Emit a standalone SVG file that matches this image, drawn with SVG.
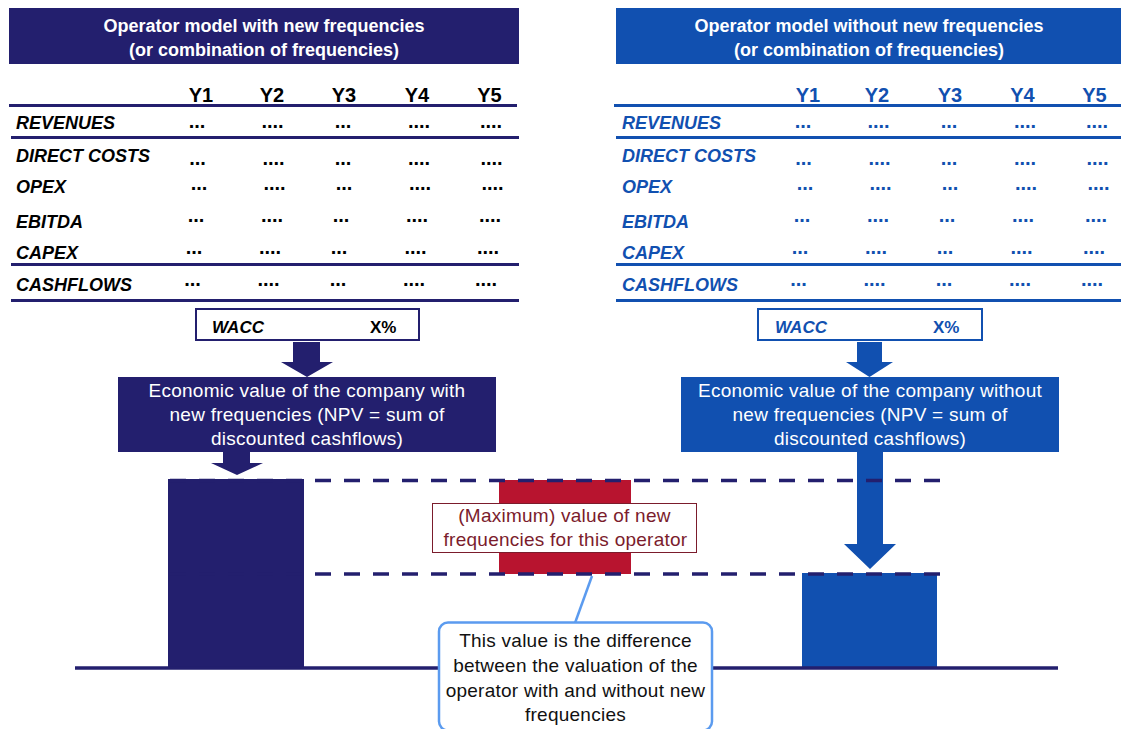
<svg xmlns="http://www.w3.org/2000/svg" width="1121" height="729" viewBox="0 0 1121 729">
<style>
.hdr{font-family:"Liberation Sans",Arial,sans-serif;font-size:18px;font-weight:bold;fill:#fff;text-anchor:middle}
.yl{font-family:"Liberation Sans",Arial,sans-serif;font-size:20px;font-weight:bold;text-anchor:middle}
.rl{font-family:"Liberation Sans",Arial,sans-serif;font-size:18px;font-weight:bold;font-style:italic}
.dt{font-family:"Liberation Sans",Arial,sans-serif;font-size:20px;font-weight:bold;text-anchor:middle}
.wc{font-family:"Liberation Sans",Arial,sans-serif;font-size:17px;font-weight:bold;font-style:italic}
.wp{font-family:"Liberation Sans",Arial,sans-serif;font-size:17px;font-weight:bold}
.body{font-family:"Liberation Sans",Arial,sans-serif;font-size:19px;letter-spacing:0.25px;text-anchor:middle}
.L{fill:#000}
.R{fill:#1150b0}
.ln{stroke-width:3;fill:none}
.lnL{stroke:#231f6e}
.lnR{stroke:#1150b0}
</style>

<!-- Left header -->
<g id="header-left">
<rect x="9" y="8" width="510" height="56" fill="#231f6e"/>
<text class="hdr" x="264" y="32">Operator model with new frequencies</text>
<text class="hdr" x="264" y="56">(or combination of frequencies)</text>
</g>

<!-- Right header -->
<g id="header-right">
<rect x="616" y="8" width="505" height="56" fill="#1150b0"/>
<text class="hdr" x="869" y="32">Operator model without new frequencies</text>
<text class="hdr" x="869" y="56">(or combination of frequencies)</text>
</g>

<!-- Left table -->
<g id="table-left">
<text class="yl L" x="201" y="102">Y1</text>
<text class="yl L" x="272" y="102">Y2</text>
<text class="yl L" x="344" y="102">Y3</text>
<text class="yl L" x="417" y="102">Y4</text>
<text class="yl L" x="489.5" y="102">Y5</text>
<line class="ln lnL" x1="9" y1="105.5" x2="517" y2="105.5"/>
<line class="ln lnL" x1="11" y1="137.5" x2="519" y2="137.5"/>
<line class="ln lnL" x1="11" y1="264.5" x2="519" y2="264.5"/>
<line class="ln lnL" x1="11" y1="300.5" x2="519" y2="300.5"/>
<text class="rl L" x="16" y="129">REVENUES</text>
<text class="rl L" x="16" y="162">DIRECT COSTS</text>
<text class="rl L" x="16" y="193">OPEX</text>
<text class="rl L" x="16" y="228">EBITDA</text>
<text class="rl L" x="16" y="259">CAPEX</text>
<text class="rl L" x="16" y="291">CASHFLOWS</text>
<g class="L">
<text class="dt" x="197" y="128">...</text><text class="dt" x="272.5" y="128">....</text><text class="dt" x="343" y="128">...</text><text class="dt" x="419" y="128">....</text><text class="dt" x="491" y="128">....</text>
<text class="dt" x="197.5" y="165">...</text><text class="dt" x="273.5" y="165">....</text><text class="dt" x="343" y="165">...</text><text class="dt" x="419" y="165">....</text><text class="dt" x="491.5" y="165">....</text>
<text class="dt" x="199" y="190">...</text><text class="dt" x="274.5" y="190">....</text><text class="dt" x="344" y="190">...</text><text class="dt" x="420" y="190">....</text><text class="dt" x="492.5" y="190">....</text>
<text class="dt" x="196" y="222">...</text><text class="dt" x="272" y="222">....</text><text class="dt" x="341" y="222">...</text><text class="dt" x="417" y="222">....</text><text class="dt" x="490" y="222">....</text>
<text class="dt" x="194" y="254">...</text><text class="dt" x="270" y="254">....</text><text class="dt" x="339" y="254">...</text><text class="dt" x="415.5" y="254">....</text><text class="dt" x="488" y="254">....</text>
<text class="dt" x="192.5" y="286">...</text><text class="dt" x="268.5" y="286">....</text><text class="dt" x="338" y="286">...</text><text class="dt" x="414" y="286">....</text><text class="dt" x="486" y="286">....</text>
</g>
</g>

<!-- Right table -->
<g id="table-right">
<text class="yl R" x="808" y="102">Y1</text>
<text class="yl R" x="877" y="102">Y2</text>
<text class="yl R" x="950" y="102">Y3</text>
<text class="yl R" x="1022.5" y="102">Y4</text>
<text class="yl R" x="1094.5" y="102">Y5</text>
<line class="ln lnR" x1="614" y1="105.5" x2="1121" y2="105.5"/>
<line class="ln lnR" x1="616" y1="137.5" x2="1121" y2="137.5"/>
<line class="ln lnR" x1="616" y1="264.5" x2="1121" y2="264.5"/>
<line class="ln lnR" x1="616" y1="300.5" x2="1121" y2="300.5"/>
<text class="rl R" x="622" y="129">REVENUES</text>
<text class="rl R" x="622" y="162">DIRECT COSTS</text>
<text class="rl R" x="622" y="193">OPEX</text>
<text class="rl R" x="622" y="228">EBITDA</text>
<text class="rl R" x="622" y="259">CAPEX</text>
<text class="rl R" x="622" y="291">CASHFLOWS</text>
<g class="R">
<text class="dt" x="803" y="128">...</text><text class="dt" x="878.5" y="128">....</text><text class="dt" x="949" y="128">...</text><text class="dt" x="1025" y="128">....</text><text class="dt" x="1097" y="128">....</text>
<text class="dt" x="803.5" y="165">...</text><text class="dt" x="879.5" y="165">....</text><text class="dt" x="949" y="165">...</text><text class="dt" x="1025" y="165">....</text><text class="dt" x="1097.5" y="165">....</text>
<text class="dt" x="805" y="190">...</text><text class="dt" x="880.5" y="190">....</text><text class="dt" x="950" y="190">...</text><text class="dt" x="1026" y="190">....</text><text class="dt" x="1098.5" y="190">....</text>
<text class="dt" x="802" y="222">...</text><text class="dt" x="878" y="222">....</text><text class="dt" x="947" y="222">...</text><text class="dt" x="1023" y="222">....</text><text class="dt" x="1096" y="222">....</text>
<text class="dt" x="800" y="254">...</text><text class="dt" x="876" y="254">....</text><text class="dt" x="945" y="254">...</text><text class="dt" x="1021.5" y="254">....</text><text class="dt" x="1094" y="254">....</text>
<text class="dt" x="798.5" y="286">...</text><text class="dt" x="874.5" y="286">....</text><text class="dt" x="944" y="286">...</text><text class="dt" x="1020" y="286">....</text><text class="dt" x="1092" y="286">....</text>
</g>
</g>

<!-- WACC boxes -->
<g id="wacc-left">
<rect x="196" y="309" width="223" height="31" fill="#fff" stroke="#231f6e" stroke-width="2"/>
<text class="wc L" x="212" y="333">WACC</text>
<text class="wp L" x="370" y="333">X%</text>
</g>
<g id="wacc-right">
<rect x="758" y="309" width="224" height="31" fill="#fff" stroke="#1150b0" stroke-width="2"/>
<text class="wc R" x="775" y="333">WACC</text>
<text class="wp R" x="933" y="333">X%</text>
</g>

<!-- Economic value boxes -->
<g id="econ-left">
<rect x="118" y="377" width="378" height="75" fill="#231f6e"/>
<text class="body" fill="#fff" x="307" y="397">Economic value of the company with</text>
<text class="body" fill="#fff" x="307" y="421">new frequencies (NPV = sum of</text>
<text class="body" fill="#fff" x="307" y="445">discounted cashflows)</text>
</g>
<g id="econ-right">
<rect x="681" y="377" width="378" height="75" fill="#1150b0"/>
<text class="body" fill="#fff" x="870" y="397">Economic value of the company without</text>
<text class="body" fill="#fff" x="870" y="421">new frequencies (NPV = sum of</text>
<text class="body" fill="#fff" x="870" y="445">discounted cashflows)</text>
</g>

<!-- Bars -->
<g id="bar-left"><rect x="168" y="479" width="136" height="189" fill="#231f6e"/></g>
<g id="bar-value"><rect x="499" y="480" width="132" height="94" fill="#b8142f"/></g>
<g id="bar-right"><rect x="802" y="573" width="135" height="95" fill="#1150b0"/></g>

<!-- Connectors -->
<g id="connectors">
<polygon points="293,342 320,342 320,362 333,362 307,377 281,362 293,362" fill="#231f6e"/>
<polygon points="223,452 250,452 250,463 263,463 237,475 211,463 223,463" fill="#231f6e"/>
<polygon points="857,342 882,342 882,362 893,362 869.5,377 846,362 857,362" fill="#1150b0"/>
<polygon points="857,452 883,452 883,544 896,544 870,569 844,544 857,544" fill="#1150b0"/>
<line x1="170" y1="480.5" x2="940" y2="480.5" stroke="#231f6e" stroke-width="3.5" stroke-dasharray="16 13"/>
<line x1="170" y1="574" x2="940" y2="574" stroke="#231f6e" stroke-width="3.5" stroke-dasharray="16 13"/>
<line x1="75" y1="668" x2="1058" y2="668" stroke="#231f6e" stroke-width="3.5"/>
<line x1="592" y1="576" x2="575" y2="623" stroke="#5b9bef" stroke-width="2.5"/>
</g>

<!-- Value label -->
<g id="value-label">
<rect x="432.5" y="503.5" width="264" height="49" fill="#fff" stroke="#7b1c2c" stroke-width="1"/>
<text class="body" fill="#7b1c2c" x="564.5" y="522">(Maximum) value of new</text>
<text class="body" fill="#7b1c2c" x="565.5" y="546">frequencies for this operator</text>
</g>

<!-- Callout -->
<g id="callout">
<rect x="439" y="622.5" width="273" height="108" rx="9" fill="#fff" stroke="#5b9bef" stroke-width="2.5"/>
<text class="body" fill="#111" x="575.5" y="647">This value is the difference</text>
<text class="body" fill="#111" x="575.5" y="672">between the valuation of the</text>
<text class="body" fill="#111" x="575.5" y="697">operator with and without new</text>
<text class="body" fill="#111" x="575.5" y="721">frequencies</text>
</g>
</svg>
